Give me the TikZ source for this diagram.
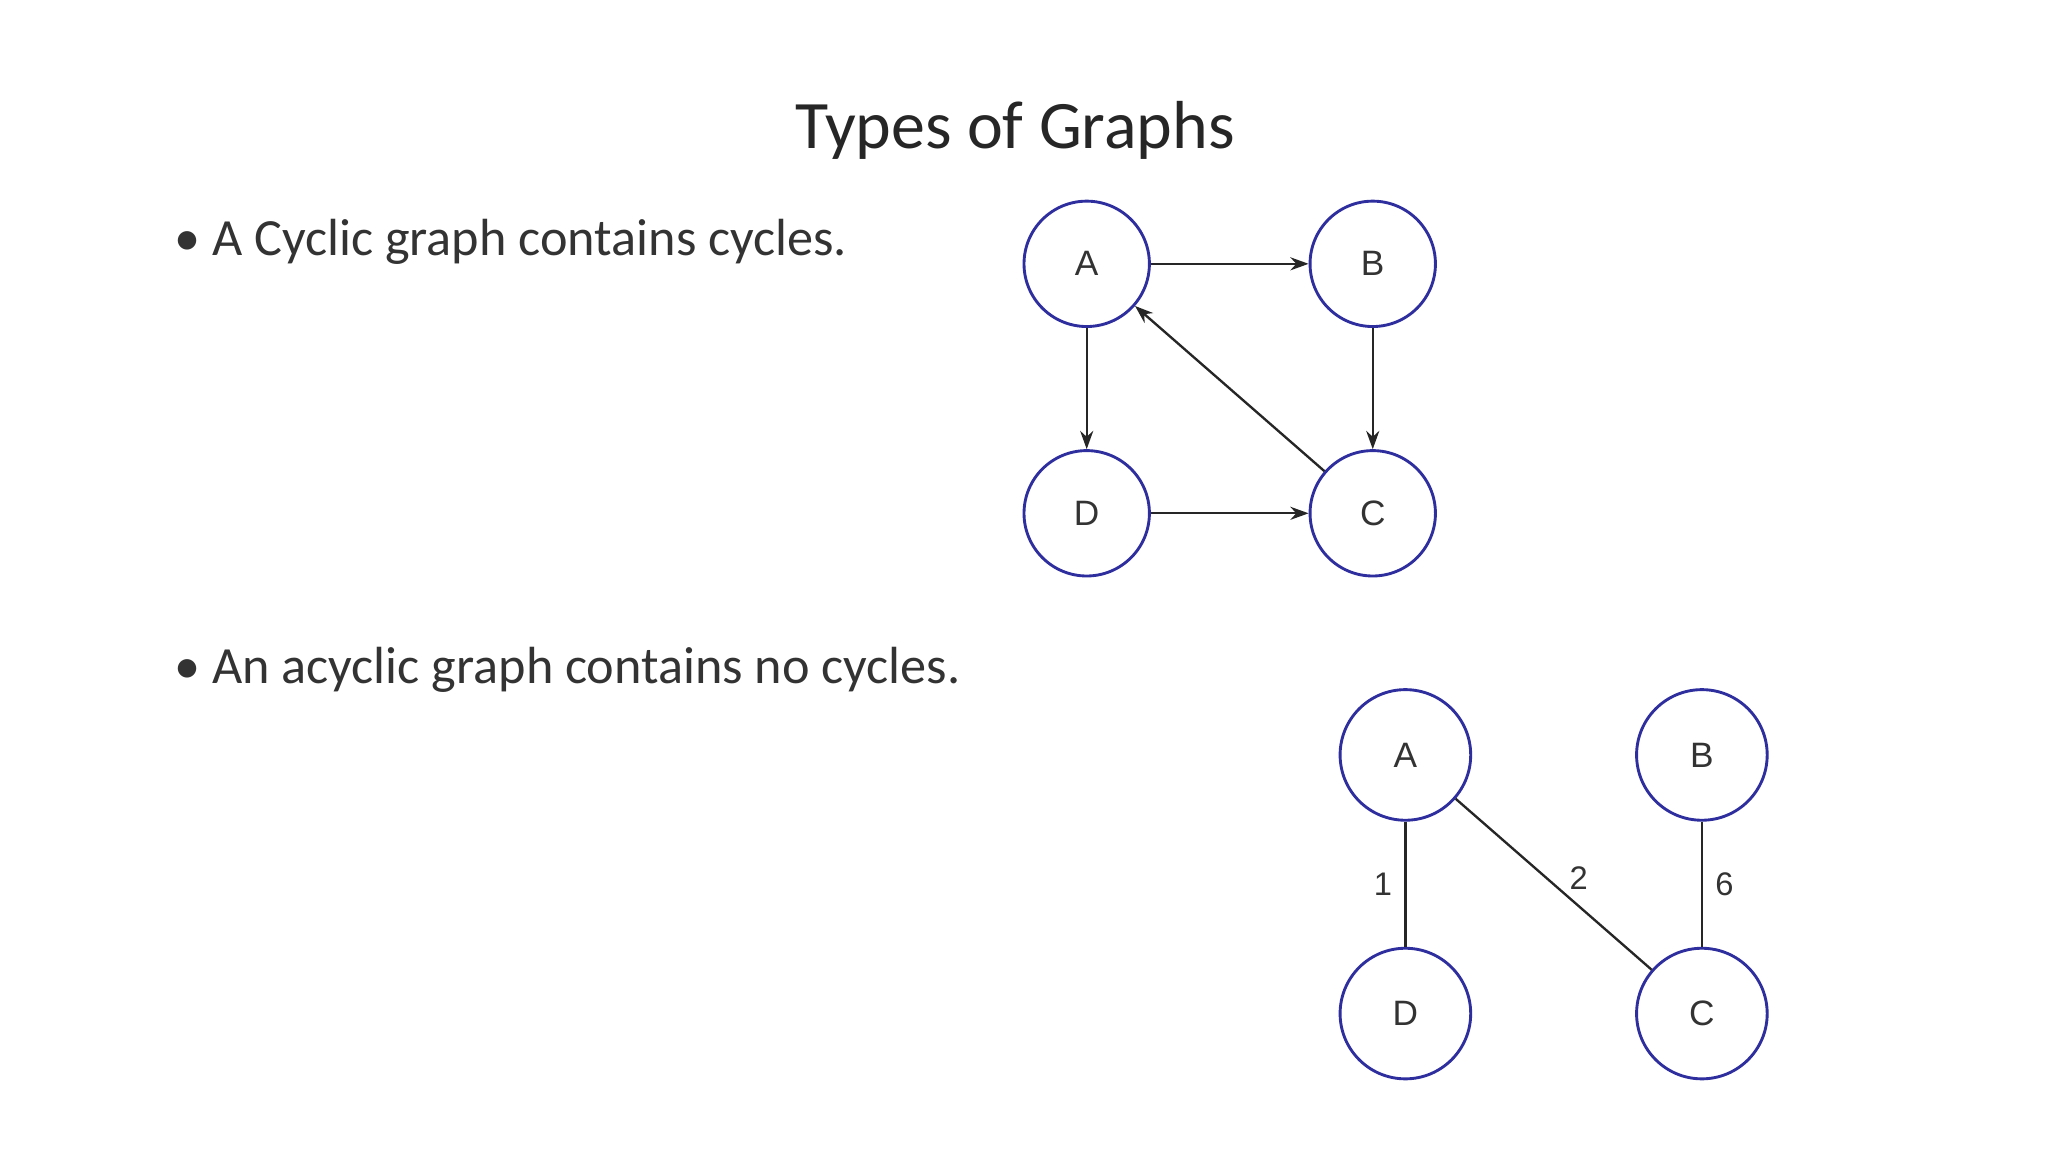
\documentclass[tikz,border=0pt]{standalone}
\usepackage{fontspec}
\setmainfont{Carlito}
\newfontfamily\lsans{Liberation Sans}
\usetikzlibrary{arrows.meta}
\definecolor{navy}{HTML}{2E2E9E}
\definecolor{txt}{HTML}{333333}
\begin{document}
\begin{tikzpicture}[x=1pt,y=-1pt,
  vtx/.style={circle,draw=navy,line width=2.2pt,fill=white,minimum size=96pt,inner sep=0pt,font=\lsans\fontsize{27}{30}\selectfont,text=black!80},
  vtxb/.style={vtx,minimum size=100pt},
  arr/.style={line width=1.8pt,black!85,-{Stealth[length=14pt,width=10pt]}},
  edg/.style={line width=1.8pt,black!85},
  wl/.style={font=\lsans\fontsize{25}{28}\selectfont,text=black!80},
  bul/.style={anchor=west,font=\fontsize{40}{46}\selectfont,text=txt}]
\useasboundingbox[fill=white] (0,0) rectangle (1568,882);
\node[font=\fontsize{52}{60}\selectfont,text=black!85] (title) at (777,100) {Types of Graphs};
\node[bul] (b1) at (130,185) {\textbullet\ A Cyclic graph contains cycles.};
\node[bul] (b2) at (130,513) {\textbullet\ An acyclic graph contains no cycles.};
% cyclic
\node[vtx] (A) at (832,202) {A};
\node[vtx] (B) at (1051,202) {B};
\node[vtx] (D) at (832,393) {D};
\node[vtx] (C) at (1051,393) {C};
\draw[arr] (A) -- (B);
\draw[arr] (A) -- (D);
\draw[arr] (B) -- (C);
\draw[arr] (D) -- (C);
\draw[arr] (C) -- (A);
% acyclic
\node[vtxb] (A2) at (1076,578) {A};
\node[vtxb] (B2) at (1303,578) {B};
\node[vtxb] (D2) at (1076,776) {D};
\node[vtxb] (C2) at (1303,776) {C};
\draw[edg] (A2) -- node[wl,left=6pt] {1} (D2);
\draw[edg] (A2) -- node[wl,anchor=south west,xshift=8pt,yshift=-8pt] {2} (C2);
\draw[edg] (B2) -- node[wl,right=6pt] {6} (C2);
\end{tikzpicture}
\end{document}
